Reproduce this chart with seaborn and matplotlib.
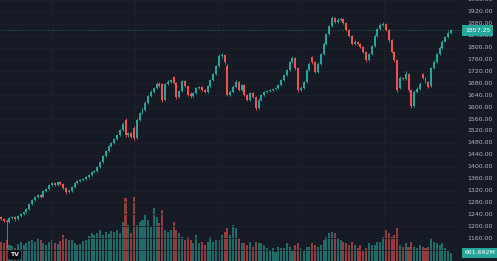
import matplotlib
matplotlib.use("Agg")
import matplotlib.pyplot as plt
import matplotlib.transforms as mtransforms
import seaborn as sns
import pandas as pd
import numpy as np

opens = [1232, 1224, 1219, 1214, 1228, 1231, 1224, 1235, 1241, 1248,
         1258, 1275, 1288, 1298, 1306, 1300, 1318, 1325, 1339, 1346,
         1340, 1349, 1342, 1329, 1315, 1319, 1332, 1345, 1352, 1355,
         1359, 1366, 1372, 1382, 1386, 1399, 1416, 1436, 1453, 1470,
         1480, 1493, 1506, 1523, 1557, 1506, 1512, 1530, 1496, 1557,
         1580, 1590, 1614, 1637, 1651, 1664, 1678, 1676, 1624, 1678,
         1684, 1701, 1681, 1634, 1654, 1688, 1671, 1645, 1637, 1647,
         1664, 1668, 1658, 1651, 1671, 1691, 1711, 1738, 1772, 1775,
         1738, 1641, 1651, 1668, 1684, 1658, 1674, 1641, 1624, 1647,
         1634, 1597, 1624, 1641, 1651, 1654, 1658, 1661, 1664, 1674,
         1691, 1708, 1725, 1751, 1765, 1731, 1658, 1664, 1684, 1725,
         1768, 1751, 1718, 1745, 1778, 1812, 1845, 1872, 1899, 1886,
         1892, 1896, 1882, 1859, 1839, 1812, 1819, 1812, 1802, 1785,
         1758, 1778, 1805, 1839, 1862, 1876, 1879, 1859, 1825, 1785,
         1758, 1664, 1698, 1694, 1711, 1658, 1604, 1651, 1661, 1711,
         1698, 1684, 1671, 1731, 1751, 1778, 1798, 1819, 1835, 1849]

closes = [1224, 1218, 1214, 1228, 1231, 1224, 1235, 1241, 1248, 1258,
          1275, 1288, 1298, 1305, 1300, 1318, 1325, 1339, 1345, 1340,
          1349, 1342, 1329, 1315, 1319, 1332, 1345, 1352, 1355, 1359,
          1366, 1372, 1382, 1386, 1399, 1416, 1436, 1453, 1470, 1480,
          1493, 1506, 1523, 1545, 1506, 1512, 1500, 1496, 1557, 1580,
          1590, 1614, 1637, 1651, 1664, 1678, 1671, 1624, 1678, 1684,
          1691, 1681, 1634, 1654, 1688, 1671, 1641, 1637, 1647, 1664,
          1668, 1658, 1651, 1671, 1691, 1711, 1738, 1772, 1775, 1751,
          1641, 1651, 1668, 1684, 1658, 1674, 1641, 1624, 1647, 1634,
          1597, 1624, 1641, 1651, 1654, 1658, 1661, 1664, 1674, 1691,
          1708, 1725, 1751, 1765, 1731, 1658, 1664, 1684, 1725, 1745,
          1751, 1718, 1745, 1778, 1812, 1845, 1872, 1899, 1886, 1892,
          1896, 1882, 1859, 1839, 1812, 1819, 1812, 1802, 1785, 1758,
          1778, 1805, 1839, 1862, 1876, 1879, 1859, 1825, 1785, 1758,
          1658, 1698, 1694, 1711, 1658, 1604, 1651, 1661, 1678, 1698,
          1684, 1668, 1731, 1751, 1778, 1798, 1819, 1835, 1849, 1857.25]

highs = [1236, 1228, 1224, 1232, 1236, 1234, 1238, 1245, 1252, 1262,
         1279, 1292, 1303, 1310, 1310, 1322, 1330, 1343, 1350, 1350,
         1353, 1352, 1345, 1332, 1324, 1336, 1349, 1356, 1360, 1363,
         1370, 1376, 1386, 1390, 1403, 1420, 1440, 1457, 1474, 1484,
         1498, 1511, 1528, 1550, 1562, 1517, 1516, 1536, 1562, 1585,
         1596, 1619, 1642, 1656, 1669, 1683, 1684, 1680, 1682, 1690,
         1696, 1706, 1685, 1659, 1692, 1692, 1675, 1650, 1652, 1668,
         1672, 1672, 1662, 1675, 1695, 1716, 1743, 1777, 1782, 1779,
         1745, 1656, 1673, 1690, 1688, 1679, 1678, 1645, 1652, 1651,
         1638, 1629, 1645, 1655, 1659, 1662, 1665, 1669, 1679, 1695,
         1712, 1729, 1756, 1772, 1768, 1735, 1670, 1689, 1729, 1750,
         1773, 1755, 1750, 1783, 1817, 1850, 1877, 1905, 1903, 1898,
         1902, 1900, 1886, 1863, 1843, 1824, 1823, 1816, 1806, 1789,
         1783, 1810, 1844, 1867, 1881, 1887, 1883, 1863, 1829, 1789,
         1762, 1703, 1702, 1722, 1715, 1662, 1656, 1666, 1683, 1716,
         1702, 1688, 1736, 1757, 1783, 1804, 1824, 1840, 1854, 1862]

lows = [1220, 1214, 1128, 1210, 1224, 1219, 1221, 1231, 1238, 1245,
        1255, 1271, 1284, 1294, 1295, 1297, 1314, 1321, 1335, 1336,
        1336, 1338, 1325, 1310, 1311, 1315, 1328, 1341, 1348, 1351,
        1355, 1362, 1368, 1378, 1382, 1395, 1412, 1432, 1449, 1466,
        1476, 1489, 1502, 1519, 1500, 1500, 1495, 1490, 1492, 1553,
        1576, 1586, 1610, 1633, 1647, 1660, 1666, 1618, 1620, 1674,
        1680, 1677, 1628, 1630, 1650, 1667, 1636, 1632, 1633, 1643,
        1660, 1654, 1647, 1647, 1667, 1687, 1707, 1734, 1766, 1745,
        1636, 1637, 1647, 1664, 1653, 1654, 1636, 1619, 1620, 1629,
        1590, 1593, 1620, 1637, 1647, 1650, 1654, 1657, 1660, 1670,
        1687, 1704, 1721, 1747, 1726, 1652, 1654, 1660, 1680, 1721,
        1746, 1713, 1714, 1741, 1774, 1808, 1841, 1868, 1881, 1882,
        1888, 1878, 1854, 1834, 1807, 1808, 1807, 1797, 1780, 1752,
        1754, 1774, 1801, 1835, 1858, 1872, 1854, 1820, 1780, 1753,
        1650, 1660, 1690, 1690, 1652, 1598, 1600, 1647, 1657, 1694,
        1680, 1663, 1667, 1727, 1747, 1774, 1794, 1831, 1831, 1845]

volumes_m = [1470, 1397, 1617, 1250, 1176, 1029, 1323, 1470, 1250, 1397,
             1544, 1617, 1470, 1764, 1617, 1397, 1250, 1470, 1617, 1397,
             1323, 1544, 1985, 1764, 1617, 1617, 1397, 1250, 1323, 1544,
             1617, 1911, 2132, 1985, 2132, 2352, 1985, 2205, 2058, 2279,
             2205, 2352, 2132, 2940, 4704, 2720, 2132, 4778, 2720, 2940,
             3087, 3455, 3087, 2573, 3969, 3308, 2867, 3822, 2352, 2205,
             2352, 2940, 2352, 2132, 1838, 1617, 1838, 1617, 1397, 1985,
             1397, 1470, 1250, 1470, 1838, 1470, 1617, 1617, 1985, 2205,
             2499, 1985, 2720, 2499, 1764, 1397, 1397, 1250, 1470, 1102,
             1470, 1397, 1397, 1250, 1029, 882, 1029, 735, 1102, 1029,
             1029, 1397, 1102, 882, 1250, 1397, 1029, 882, 1102, 1102,
             1397, 1250, 1102, 1250, 1617, 1838, 2132, 2205, 2132, 1764,
             1617, 1470, 1397, 1250, 1470, 1250, 1029, 1250, 882, 1029,
             1397, 1250, 1250, 1470, 1470, 1838, 2352, 2132, 1838, 1985,
             2499, 1250, 1102, 1397, 1102, 1470, 1102, 1029, 1250, 1102,
             1029, 1102, 1764, 1470, 1397, 1250, 1397, 1029, 882, 661.692]

price_ticks = [1120, 1160, 1200, 1240, 1280, 1320, 1360, 1400, 1440,
               1480, 1520, 1560, 1600, 1640, 1680, 1720, 1760, 1800, 1840,
               1880, 1920, 1960]
last_price_label = "1857.25"
last_volume_label = "661.692M"
logo_text = "TV"

BG = "#161a25"
UP = "#26a69a"
DOWN = "#ef5350"
GRID = "#1c202b"
LABEL = "#b2b5be"

sns.set_theme(style="dark")
plt.rcParams["font.family"] = ["DejaVu Sans"]

fig = plt.figure(figsize=(4.97, 2.61), dpi=100, facecolor=BG)
W = 462 / 497
ax_vol = fig.add_axes([0, 0, W, 1])
ax = fig.add_axes([0, 0, W, 1], sharex=ax_vol)
ax_vol.set_facecolor(BG)
ax.patch.set_visible(False)

o = np.array(opens, dtype=float)
c = np.array(closes, dtype=float)
h = np.array(highs, dtype=float)
l = np.array(lows, dtype=float)
n = len(c)
idx = np.arange(n)
up = c >= o

# volume pane
df = pd.DataFrame({"i": idx, "vol": volumes_m, "dir": np.where(up, "up", "down")})
sns.barplot(data=df, x="i", y="vol", hue="dir", palette={"up": UP, "down": DOWN},
            native_scale=True, dodge=False, width=0.72, saturation=1,
            errorbar=None, legend=False, alpha=0.58, linewidth=0,
            edgecolor="none", ax=ax_vol)
ax_vol.set_ylim(73.5, 19257)
ax_vol.set_xlabel("")
ax_vol.set_ylabel("")
ax_vol.set_xticks([])
ax_vol.set_yticks([])

# grid
for gx in [18, 47.3, 76.7, 106, 135.4]:
    ax.axvline(gx, color=GRID, lw=0.6, zorder=0)
for p in price_ticks:
    ax.axhline(p, color=GRID, lw=0.6, zorder=0)

# candles
colors = np.where(up, UP, DOWN)
ax.vlines(idx, l, h, colors=colors, lw=0.6, zorder=2)
bottoms = np.minimum(o, c)
heights = np.maximum(np.abs(c - o), 2.5)
ax.bar(idx, heights, bottom=bottoms, width=0.7, color=colors, linewidth=0, zorder=3)

ax.axhline(c[-1], color=UP, lw=0.6, ls=(0, (1, 2)), alpha=0.7, zorder=1)

ax.set_xlim(-0.353, 162.9)
ax.set_ylim(1083.6, 1959.5)
ax.set_xticks([])
ax.set_yticks([])
for a in (ax, ax_vol):
    for s in a.spines.values():
        s.set_visible(False)

trans = mtransforms.blended_transform_factory(ax.transAxes, ax.transData)
for p in price_ticks:
    ax.text(1 + 5 / 462, p, f"{p:.2f}", transform=trans, clip_on=False,
            fontsize=4.5, color=LABEL, va="center", ha="left")

fig.text(465 / 497, 1 - 30.5 / 261, last_price_label, fontsize=4.5, color="white",
         va="center", ha="left",
         bbox=dict(boxstyle="square,pad=0.45", fc=UP, ec="none"))
fig.text(465 / 497, 1 - 253 / 261, last_volume_label, fontsize=4.5, color="white",
         va="center", ha="left",
         bbox=dict(boxstyle="square,pad=0.45", fc=UP, ec="none"))
fig.text(10 / 497, 1 - 255 / 261, logo_text, fontsize=4.5, color="#e0e3eb",
         fontweight="bold", va="center", ha="left",
         bbox=dict(boxstyle="round,pad=0.35", fc="#0c0e15", ec="none"))

fig.savefig("out.png", dpi=100, facecolor=BG)
